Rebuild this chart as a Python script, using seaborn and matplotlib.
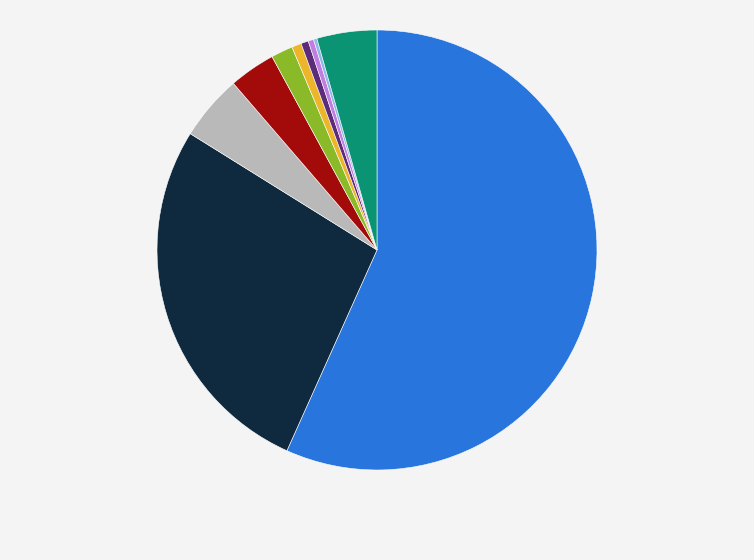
import matplotlib
matplotlib.use("Agg")
import matplotlib.pyplot as plt
import seaborn as sns

# slice shares (%), clockwise from 12 o'clock
segments = ["A", "B", "C", "D", "E", "F", "G", "H", "I", "J"]
shares = [56.6, 27.1, 4.8, 3.4, 1.6, 0.7, 0.55, 0.4, 0.25, 4.4]
colors = ["#2876dd", "#0f2a3f", "#b9b9b9", "#a30a0a", "#8aba27",
          "#ecb52a", "#5b2c7a", "#c07ee0", "#8fb7e8", "#0b9474"]

sns.set_theme(style="white")
plt.rcParams['font.family'] = ['DejaVu Sans']

fig = plt.figure(figsize=(7.54, 5.6), dpi=100)
fig.patch.set_facecolor("#f4f4f4")
ax = fig.add_axes([(377 - 220) / 754, (560 - 250 - 220) / 560, 440 / 754, 440 / 560])
ax.set_facecolor("#f4f4f4")

ax.pie(shares, colors=colors, startangle=90, counterclock=False,
       wedgeprops=dict(edgecolor="white", linewidth=0.4), radius=1)
ax.set_xlim(-1, 1)
ax.set_ylim(-1, 1)
ax.set_aspect("equal")
ax.axis("off")

fig.savefig("out.png", dpi=100, facecolor=fig.get_facecolor())
